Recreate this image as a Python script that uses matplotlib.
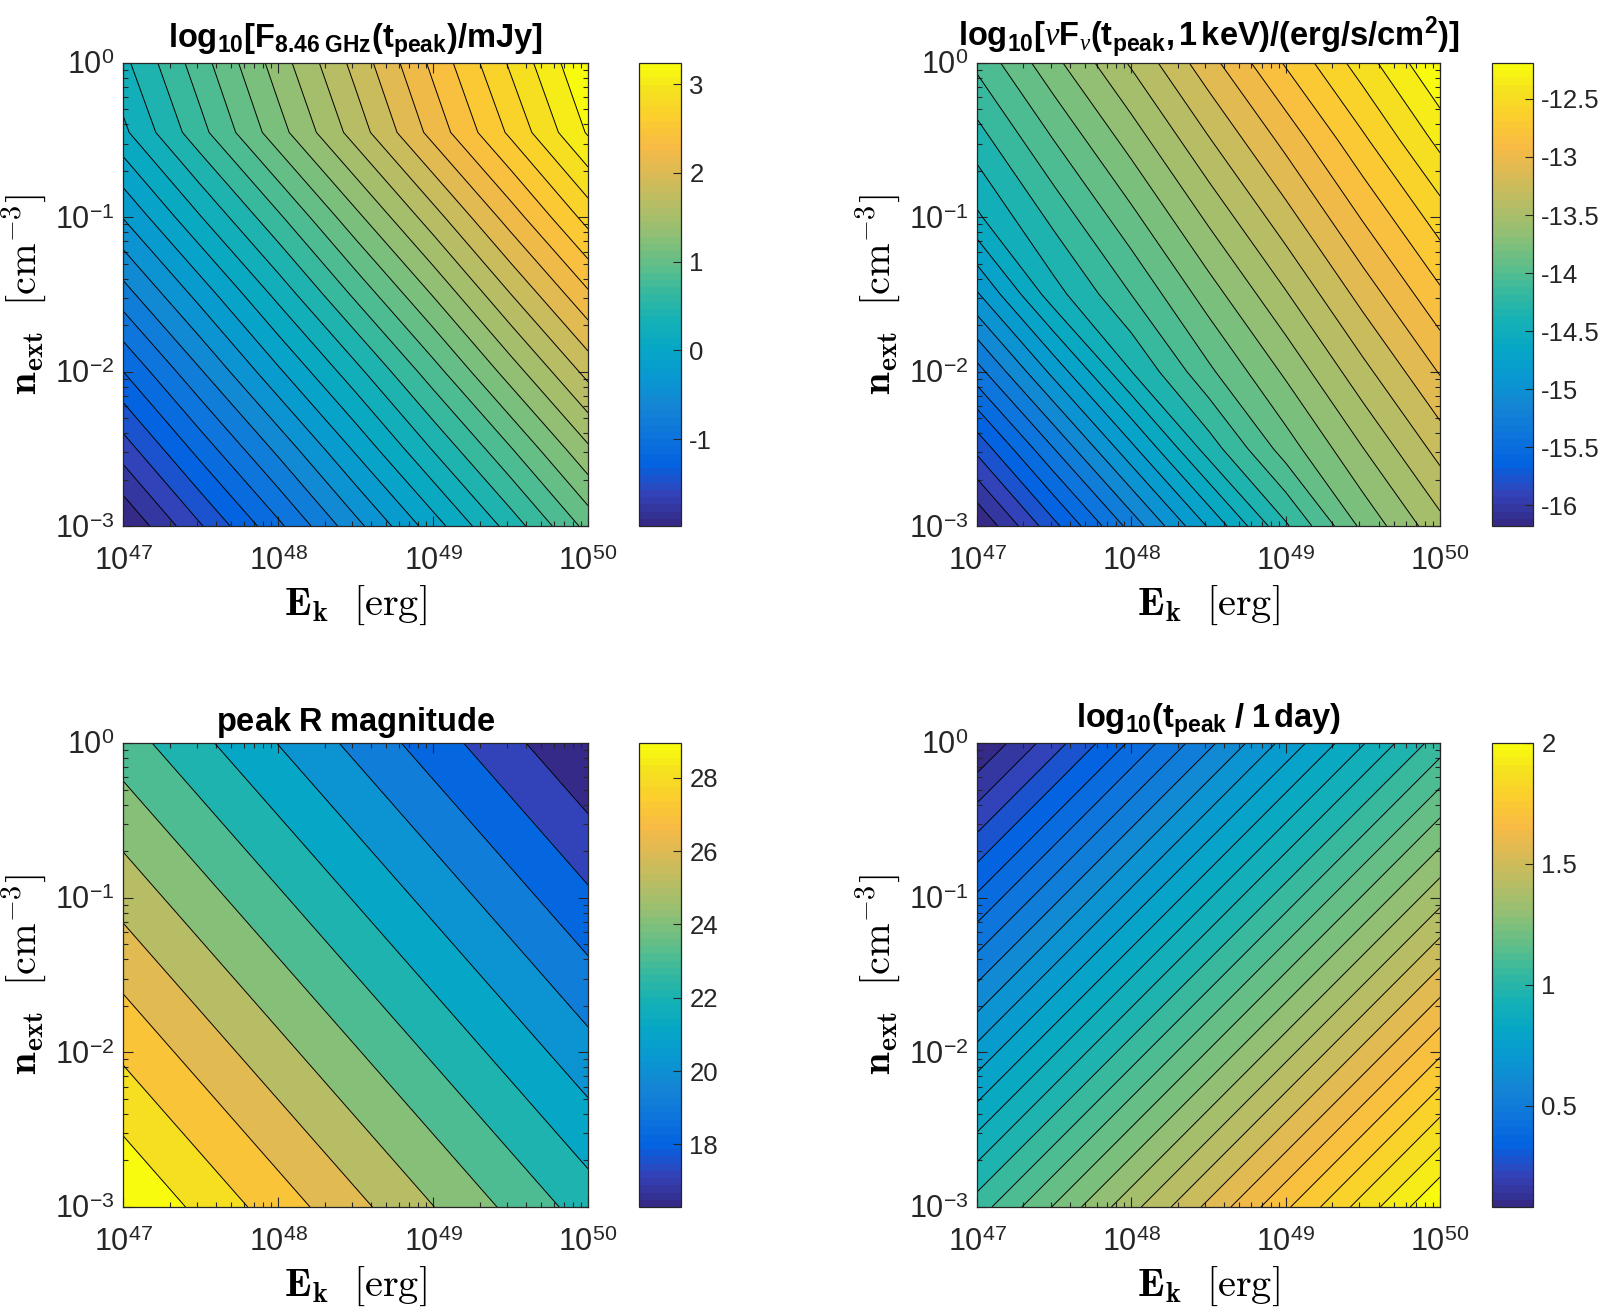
import numpy as np
import matplotlib
matplotlib.use('Agg')
import matplotlib.pyplot as plt
from matplotlib import cm
from matplotlib import colors as mcolors

plt.rcParams['font.family'] = ['Liberation Sans', 'DejaVu Sans']
plt.rcParams['mathtext.fontset'] = 'custom'
plt.rcParams['mathtext.rm'] = 'Liberation Sans'
plt.rcParams['mathtext.bf'] = 'Liberation Sans:bold'
plt.rcParams['mathtext.it'] = 'Liberation Serif:italic'
plt.rcParams['axes.unicode_minus'] = False

# grid (log10 E_k [erg], log10 n_ext [cm^-3])
LOG_E = [47.0, 47.5, 48.0, 48.5, 49.0, 49.5, 50.0]
LOG_N = [-3.0, -2.5, -2.0, -1.5, -1.0, -0.5, 0.0]
LOG_N_RADIO = [-3.0, -2.5, -2.0, -1.5, -1.0, -0.45, 0.0]

# log10 F_8.46GHz(t_peak)/mJy, rows = n_ext, cols = E_k
radio_flux = [
    [-1.98, -1.49, -1.01, -0.52, -0.04, 0.45, 0.94],
    [-1.56, -1.07, -0.59, -0.10, 0.39, 0.87, 1.36],
    [-1.14, -0.65, -0.16, 0.32, 0.81, 1.30, 1.78],
    [-0.71, -0.23, 0.26, 0.75, 1.23, 1.72, 2.20],
    [-0.29, 0.20, 0.68, 1.17, 1.65, 2.14, 2.63],
    [0.17, 0.66, 1.15, 1.63, 2.12, 2.60, 3.09],
    [0.33, 0.81, 1.30, 1.78, 2.27, 2.76, 3.24],
]

# log10 nuFnu(t_peak, 1keV)
xray_flux = [
    [-16.18, -15.70, -15.23, -14.75, -14.27, -13.83, -13.52],
    [-15.76, -15.28, -14.80, -14.32, -13.93, -13.61, -13.30],
    [-15.33, -14.85, -14.38, -14.02, -13.71, -13.39, -13.08],
    [-14.91, -14.43, -14.12, -13.80, -13.49, -13.17, -12.86],
    [-14.53, -14.21, -13.90, -13.58, -13.27, -12.95, -12.64],
    [-14.31, -13.99, -13.68, -13.36, -13.05, -12.73, -12.41],
    [-14.09, -13.77, -13.46, -13.14, -12.82, -12.51, -12.19],
]

# peak R magnitude
r_mag = [
    [28.95, 27.83, 26.70, 25.58, 24.45, 23.33, 22.20],
    [27.97, 26.84, 25.72, 24.59, 23.47, 22.34, 21.22],
    [26.98, 25.86, 24.73, 23.61, 22.48, 21.36, 20.23],
    [26.00, 24.87, 23.75, 22.62, 21.50, 20.37, 19.25],
    [25.01, 23.89, 22.76, 21.64, 20.51, 19.39, 18.26],
    [24.03, 22.90, 21.78, 20.65, 19.53, 18.40, 17.28],
    [23.04, 21.92, 20.79, 19.67, 18.54, 17.42, 16.29],
]

# log10(t_peak / 1 day)
t_peak = [
    [1.04, 1.20, 1.36, 1.52, 1.68, 1.84, 2.00],
    [0.88, 1.04, 1.20, 1.36, 1.52, 1.68, 1.84],
    [0.72, 0.88, 1.04, 1.20, 1.36, 1.52, 1.68],
    [0.56, 0.72, 0.88, 1.04, 1.20, 1.36, 1.52],
    [0.40, 0.56, 0.72, 0.88, 1.04, 1.20, 1.36],
    [0.24, 0.40, 0.56, 0.72, 0.88, 1.04, 1.20],
    [0.08, 0.24, 0.40, 0.56, 0.72, 0.88, 1.04],
]

titles = [
    r'$\mathbf{log_{10}[F_{8.46\ GHz}(t_{peak})/mJy]}$',
    r'$\mathbf{log_{10}[}\nu\mathbf{F}_{\nu}\mathbf{(t_{peak},1\,keV)/(erg/s/cm^{2})]}$',
    r'$\mathbf{peak\ R\ magnitude}$',
    r'$\mathbf{log_{10}(t_{peak}\ /\ 1\,day)}$',
]
cbar_ticks = [
    [-1, 0, 1, 2, 3],
    [-16, -15.5, -15, -14.5, -14, -13.5, -13, -12.5],
    [18, 20, 22, 24, 26, 28],
    [0.5, 1, 1.5, 2],
]
n_lines = [30, 30, 13, 30]

# parula (MATLAB), every 4th entry of the 64 colour table
parula_pts = [
    (0.2081, 0.1663, 0.5292), (0.1959, 0.2645, 0.7279), (0.0117, 0.3875, 0.8820),
    (0.0498, 0.4586, 0.8641), (0.0793, 0.5200, 0.8312), (0.0343, 0.5966, 0.8199),
    (0.0228, 0.6535, 0.7768), (0.0843, 0.6928, 0.7062), (0.2178, 0.7250, 0.6193),
    (0.3953, 0.7459, 0.5244), (0.5709, 0.7485, 0.4494), (0.7184, 0.7411, 0.3905),
    (0.8507, 0.7299, 0.3360), (0.9739, 0.7314, 0.2666), (0.9880, 0.8066, 0.1794),
    (0.9589, 0.8949, 0.1132), (0.9763, 0.9831, 0.0538),
]
pos = [i * 4 / 63 for i in range(16)] + [1.0]
parula = mcolors.LinearSegmentedColormap.from_list('parula', list(zip(pos, parula_pts)), N=64)

W, H = 1602, 1310
fig = plt.figure(figsize=(W / 100, H / 100), dpi=100)

# axes boxes in pixels: left, top, width, height
ax_px = [(123, 63, 465, 463), (977, 63, 463, 463), (123, 743, 465, 464), (977, 743, 463, 464)]
cb_px = [(639, 63, 42, 463), (1492, 63, 41, 463), (639, 743, 42, 464), (1492, 743, 41, 464)]

fields = [radio_flux, xray_flux, r_mag, t_peak]
ygrids = [LOG_N_RADIO, LOG_N, LOG_N, LOG_N]
edge = '#262626'

minor = [d + np.log10(k) for d in range(-3, 0) for k in range(2, 10)]
minor_e = [d + np.log10(k) for d in range(47, 50) for k in range(2, 10)]

for i in range(4):
    l, t, w, h = ax_px[i]
    ax = fig.add_axes([l / W, 1 - (t + h) / H, w / W, h / H])
    Z = np.array(fields[i])
    X, Y = np.meshgrid(LOG_E, ygrids[i])
    zmin, zmax = Z.min(), Z.max()
    levels = np.linspace(zmin, zmax, n_lines[i] + 2)
    step = levels[1] - levels[0]
    norm = mcolors.Normalize(vmin=zmin + step / 2, vmax=zmax - step / 2)
    ax.contourf(X, Y, Z, levels=levels, cmap=parula, norm=norm)
    ax.contour(X, Y, Z, levels=levels[1:-1], colors='k', linewidths=0.7,
               linestyles='solid')

    ax.set_xlim(47, 50)
    ax.set_ylim(-3, 0)
    ax.set_xticks([47, 48, 49, 50])
    ax.set_xticklabels([r'$10^{47}$', r'$10^{48}$', r'$10^{49}$', r'$10^{50}$'])
    ax.set_yticks([-3, -2, -1, 0])
    ax.set_yticklabels([r'$10^{-3}$', r'$10^{-2}$', r'$10^{-1}$', r'$10^{0}$'])
    ax.set_xticks(minor_e, minor=True)
    ax.set_yticks(minor, minor=True)
    ax.tick_params(which='both', direction='in', top=True, right=True, colors=edge, width=0.8)
    ax.tick_params(which='major', length=7, labelsize=22)
    ax.tick_params(axis='x', which='major', pad=15)
    ax.tick_params(axis='y', which='major', pad=6)
    ax.tick_params(which='minor', length=3.5)
    for s in ax.spines.values():
        s.set_color(edge)
        s.set_linewidth(0.9)

    ax.set_title(titles[i], fontsize=23.5, pad=2, va='bottom')
    ax.set_xlabel(r'$\mathbf{E}_{\mathbf{k}}\ \ [\mathrm{erg}]$', fontsize=29,
                  math_fontfamily='cm', labelpad=5)
    ax.set_ylabel(r'$\mathbf{n}_{\mathbf{ext}}\ \ [\mathrm{cm}^{-3}]$', fontsize=29,
                  math_fontfamily='cm', labelpad=4)

    # colorbar
    l, t, w, h = cb_px[i]
    cax = fig.add_axes([l / W, 1 - (t + h) / H, w / W, h / H])
    sm = cm.ScalarMappable(norm=mcolors.Normalize(vmin=zmin, vmax=zmax), cmap=parula)
    cb = fig.colorbar(sm, cax=cax, ticks=cbar_ticks[i])
    cb.ax.set_yticklabels([f'{v:g}' for v in cbar_ticks[i]])
    cb.ax.tick_params(direction='in', length=6, width=0.8, labelsize=18.5, colors=edge, pad=6)
    cb.outline.set_edgecolor(edge)
    cb.outline.set_linewidth(0.9)

fig.savefig('out.png', dpi=100)
